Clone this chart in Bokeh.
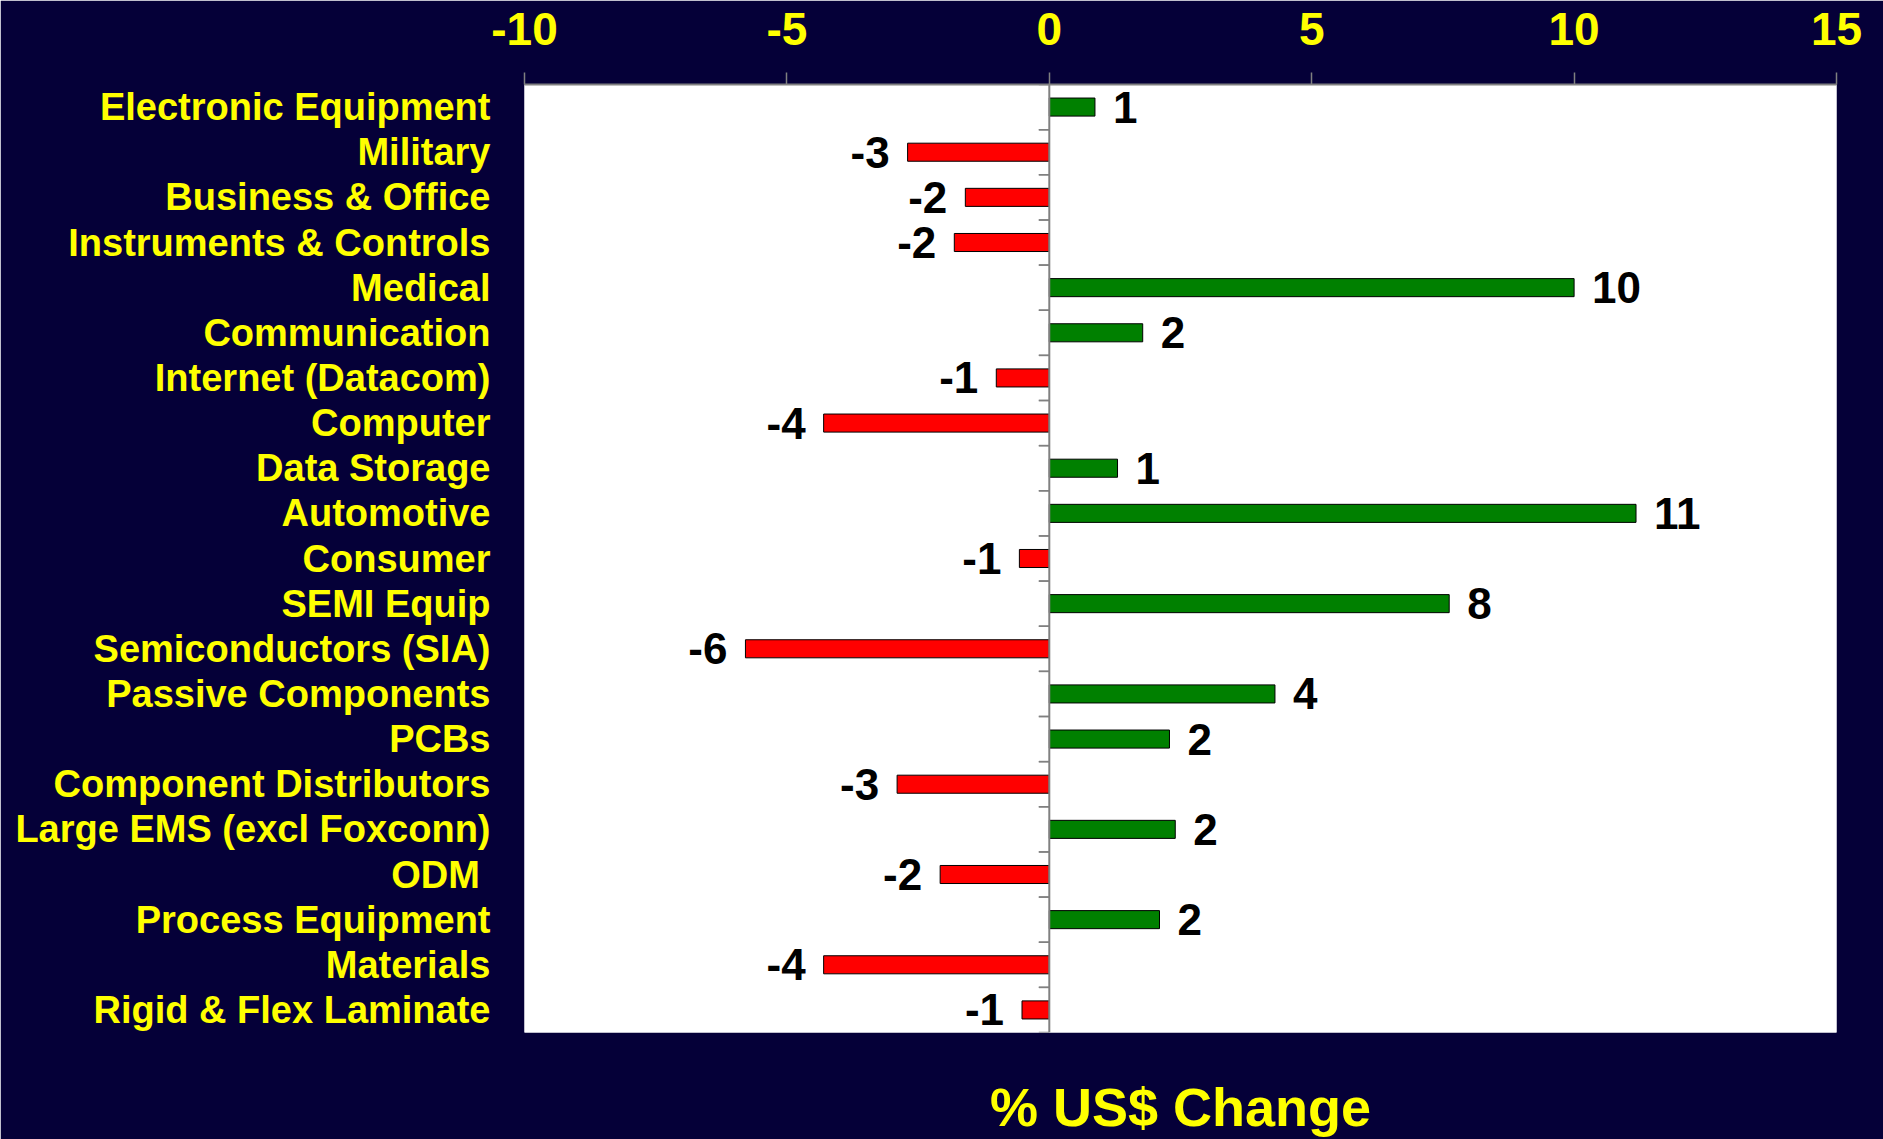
from bokeh.plotting import figure
from bokeh.models import Range1d, FactorRange, LinearAxis, FixedTicker, Span, ColumnDataSource
from bokeh.transform import dodge
from bokeh.core.properties import value, field
from bokeh.embed import file_html
from bokeh.resources import INLINE
import math

categories = [
    "Electronic Equipment", "Military", "Business & Office", "Instruments & Controls",
    "Medical", "Communication", "Internet (Datacom)", "Computer", "Data Storage",
    "Automotive", "Consumer", "SEMI Equip", "Semiconductors (SIA)", "Passive Components",
    "PCBs", "Component Distributors", "Large EMS (excl Foxconn)", "ODM ",
    "Process Equipment", "Materials", "Rigid & Flex Laminate",
]
changes = [0.87, -2.7, -1.6, -1.81, 10.0, 1.78, -1.01, -4.3, 1.3, 11.18, -0.57, 7.62,
           -5.79, 4.3, 2.29, -2.9, 2.4, -2.08, 2.1, -4.3, -0.52]
x_ticks = [-10, -5, 0, 5, 10, 15]
axis_title = "% US$ Change"

BG = "#050038"
YEL = "#FFFF00"
FONT = "Liberation Sans"


def round_away(v):
    return int(math.copysign(math.floor(abs(v) + 0.5), v))


labels = [str(round_away(v)) for v in changes]
colors = ["#008000" if v >= 0 else "#FF0000" for v in changes]
aligns = ["left" if v >= 0 else "right" for v in changes]
xoffs = [18 if v >= 0 else -18 for v in changes]

src = ColumnDataSource(dict(cat=categories, val=changes, lab=labels, col=colors,
                            align=aligns, xoff=xoffs, zero=[0] * len(changes),
                            tick0=[-0.2] * len(changes)))

p = figure(width=1883, height=1139, output_backend="svg", toolbar_location=None,
           x_range=Range1d(x_ticks[0], x_ticks[-1]),
           y_range=FactorRange(factors=list(reversed(categories)), range_padding=0),
           x_axis_location=None, y_axis_location="left",
           min_border_left=524, min_border_top=84, min_border_right=47, min_border_bottom=106,
           background_fill_color="white", border_fill_color=BG)
p.outline_line_color = None
p.grid.visible = False

# top axis
top = LinearAxis(ticker=FixedTicker(ticks=x_ticks))
top.major_label_overrides = {t: str(t) for t in x_ticks}
top.axis_line_color = "#808080"
top.axis_line_width = 2
top.major_tick_line_color = "#808080"
top.major_tick_line_width = 1.5
top.major_tick_out = 12
top.major_tick_in = 0
top.minor_tick_line_color = None
top.major_label_standoff = 28
top.major_label_text_color = YEL
top.major_label_text_font = FONT
top.major_label_text_font_style = "bold"
top.major_label_text_font_size = "46px"
p.add_layout(top, "above")

# bottom axis carrying only the title
bot = LinearAxis(ticker=FixedTicker(ticks=[]), axis_label=axis_title)
bot.axis_line_color = None
bot.major_tick_line_color = None
bot.minor_tick_line_color = None
bot.major_tick_out = 0
bot.major_tick_in = 0
bot.major_label_standoff = 0
bot.major_label_text_font_size = "0px"
bot.axis_label_standoff = 44
bot.axis_label_text_color = YEL
bot.axis_label_text_font = FONT
bot.axis_label_text_font_style = "bold"
bot.axis_label_text_font_size = "54px"
p.add_layout(bot, "below")

# category axis
ya = p.yaxis[0]
ya.axis_line_color = None
ya.major_tick_line_color = None
ya.minor_tick_line_color = None
ya.major_label_standoff = 28
ya.major_label_text_color = YEL
ya.major_label_text_font = FONT
ya.major_label_text_font_style = "bold"
ya.major_label_text_font_size = "38px"

# bars
p.hbar(y="cat", left="zero", right="val", height=0.4, source=src,
       fill_color="col", line_color="black", line_width=1)

# small ticks along the zero line at category boundaries
for off in (0.5, -0.5):
    p.segment(x0="tick0", x1="zero", y0=dodge("cat", off, range=p.y_range),
              y1=dodge("cat", off, range=p.y_range), source=src,
              line_color="#808080", line_width=1.5)

p.add_layout(Span(location=0, dimension="height", line_color="#808080", line_width=2))

# value labels
p.text(x="val", y="cat", text="lab", source=src, x_offset=field("xoff"),
       text_align=field("align"), text_baseline="middle", text_color="black",
       text_font=value(FONT), text_font_style="bold", text_font_size="44px")

open("out.html", "w").write(file_html(p, INLINE))
